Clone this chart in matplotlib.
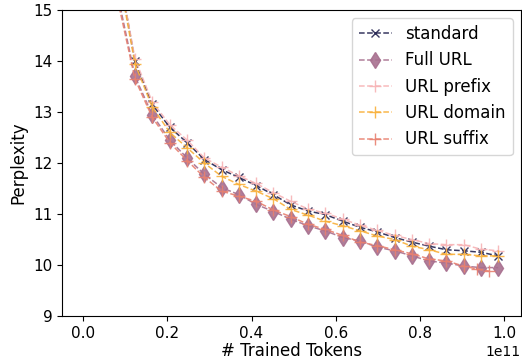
import matplotlib
matplotlib.use('Agg')
import matplotlib.pyplot as plt

# trained tokens (x 1e11)
tokens = [0.041, 0.082, 0.123, 0.164, 0.206, 0.247, 0.288, 0.329, 0.370, 0.411, 0.452, 0.493,
          0.534, 0.575, 0.617, 0.658, 0.699, 0.740, 0.781, 0.822, 0.863, 0.904, 0.945, 0.986]
tokens_suffix = tokens[:22] + [0.936, 0.965]

standard = [22.0, 15.9, 14.00, 13.15, 12.70, 12.40, 12.07, 11.87, 11.72, 11.56, 11.38, 11.18,
            11.06, 10.99, 10.86, 10.74, 10.65, 10.54, 10.45, 10.37, 10.30, 10.28, 10.25, 10.18]
full_url = [21.0, 15.3, 13.70, 12.95, 12.45, 12.10, 11.78, 11.52, 11.38, 11.19, 11.05, 10.90,
            10.77, 10.67, 10.54, 10.47, 10.35, 10.28, 10.18, 10.08, 10.04, 9.98, 9.95, 9.95]
url_prefix = [22.0, 15.9, 14.05, 13.20, 12.75, 12.45, 12.10, 11.92, 11.75, 11.60, 11.42, 11.25,
              11.10, 11.02, 10.90, 10.78, 10.68, 10.58, 10.50, 10.42, 10.40, 10.40, 10.31, 10.28]
url_domain = [22.0, 15.8, 13.95, 13.10, 12.60, 12.30, 12.00, 11.74, 11.58, 11.45, 11.30, 11.09,
              10.98, 10.86, 10.77, 10.67, 10.57, 10.50, 10.37, 10.30, 10.21, 10.21, 10.18, 10.18]
url_suffix = [21.0, 15.2, 13.65, 12.90, 12.40, 12.05, 11.72, 11.45, 11.35, 11.25, 11.08, 10.95,
              10.80, 10.70, 10.58, 10.45, 10.38, 10.30, 10.22, 10.12, 10.08, 9.98, 9.92, 9.88]

t = [v * 1e11 for v in tokens]
ts = [v * 1e11 for v in tokens_suffix]

fig = plt.figure(figsize=(5.22, 3.62), dpi=100)
ax = fig.add_axes([0.119, 0.127, 0.879, 0.845])

ax.plot(t, standard, '--', color='#22224f', marker='x', markersize=6, lw=1.1, label='standard', alpha=0.9)
ax.plot(t, full_url, '--', color='#a8708f', marker='d', markersize=8, lw=1.1, label='Full URL', alpha=0.9)
ax.plot(t, url_prefix, '--', color='#f7b3b5', marker='+', markersize=8, lw=1.1, label='URL prefix', alpha=0.9)
ax.plot(t, url_domain, '--', color='#f9b03a', marker='+', markersize=8, lw=1.1, label='URL domain', alpha=0.9)
ax.plot(ts, url_suffix, '--', color='#e8806f', marker='+', markersize=8, lw=1.1, label='URL suffix', alpha=0.9)

ax.set_ylim(9, 15)
ax.set_xlim(-0.05e11, 1.04e11)
ax.set_xlabel('# Trained Tokens', fontsize=12, labelpad=1)
ax.set_ylabel('Perplexity', fontsize=12)
ax.tick_params(labelsize=11)
ax.legend(loc='upper right', fontsize=12)

fig.savefig('out.png', dpi=100)
